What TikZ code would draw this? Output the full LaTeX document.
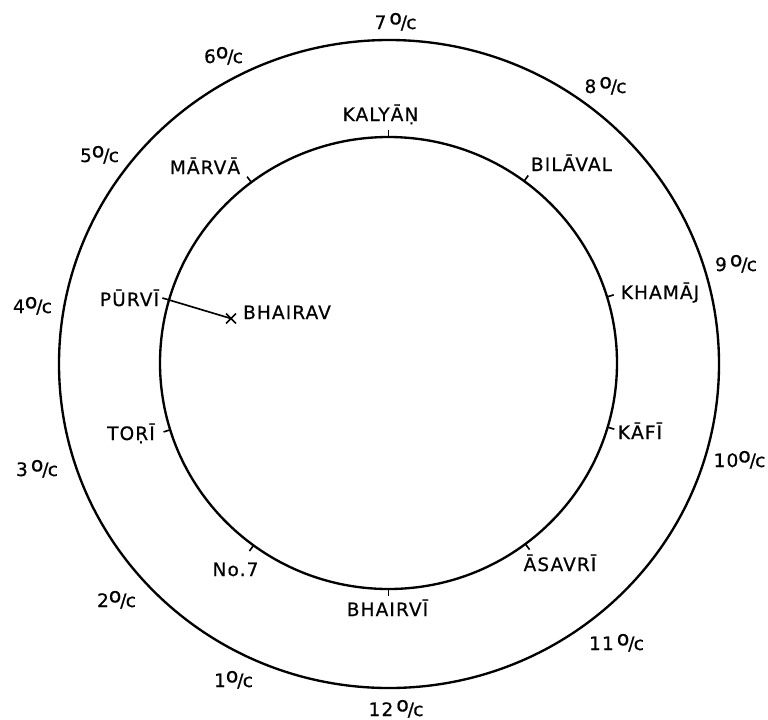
\documentclass[tikz,border=0pt]{standalone}
\usepackage{fontspec}
\setmainfont{DejaVu Sans}[LetterSpace=6, FakeBold=0.6]
\usetikzlibrary{shapes.misc}
\newcommand{\ocl}{\raisebox{0.25em}{\scalebox{1.1}{o}}\kern-0.06em/\kern-0.04em c}
\begin{document}
\begin{tikzpicture}[x=0.03cm,y=0.03cm,
  ring/.style={line width=2pt},
  tickline/.style={line width=1.4pt},
  lab/.style={font=\fontsize{15.8}{18}\selectfont, inner sep=0pt, anchor=base},
  xmark/.style={cross out, draw, line width=1.4pt, minimum size=7pt, inner sep=0pt}]
\useasboundingbox (0,0) rectangle (768,-719);
\coordinate (ci) at (388.5,-363);
\coordinate (co) at (389,-364);
\draw[ring] (co) ellipse [x radius=330, y radius=324];
\draw[ring] (ci) ellipse [x radius=228.5, y radius=226];
% ticks on the inner circle
\foreach \n/\a in {ka/90, bi/53.6, kh/17, kf/-16.5, as/-53.2, bv/-90, no/-126.2, to/197.2, pu/163.8, ma/126.9}{
  \path (ci) ++(\a:228.5 and 226) coordinate (\n) ++(\a:7) coordinate (\n-t);
  \draw[tickline] (\n) -- (\n-t);
}
% inner labels
\node[lab] (lka) at (380.5,-121) {KALYĀṆ};
\node[lab] (lbi) at (571.5,-171) {BILĀVAL};
\node[lab] (lma) at (205,-174) {MĀRVĀ};
\node[lab] (lkh) at (660,-299) {KHAMĀJ};
\node[lab] (lpu) at (129.5,-306) {PŪRVĪ};
\node[lab] (lbh) at (287,-319) {BHAIRAV};
\node[lab] (lto) at (131,-440) {TOṚĪ};
\node[lab] (lkf) at (640,-439) {KĀFĪ};
\node[lab] (las) at (560,-571) {ĀSAVRĪ};
\node[lab] (lno) at (235.5,-576) {No.7};
\node[lab] (lbv) at (387.5,-616) {BHAIRVĪ};
% Bhairav mark
\node[xmark] (bx) at (231,-318.5) {};
\draw[tickline] (pu) -- (bx.center);
% outer labels
\node[lab] (h7) at (395.5,-29) {7\,\ocl};
\node[lab] (h8) at (605.5,-93) {8\,\ocl};
\node[lab] (h9) at (736,-271) {9\,\ocl};
\node[lab] (h10) at (739.5,-467) {10\ocl};
\node[lab] (h11) at (616.5,-650) {11\,\ocl};
\node[lab] (h12) at (396,-716) {12\,\ocl};
\node[lab] (h1) at (233.5,-687) {1\ocl};
\node[lab] (h2) at (116.5,-607) {2\ocl};
\node[lab] (h3) at (37,-476) {3\,\ocl};
\node[lab] (h4) at (32.5,-313) {4\ocl};
\node[lab] (h5) at (99.5,-162) {5\ocl};
\node[lab] (h6) at (223.5,-63) {6\ocl};
\end{tikzpicture}
\end{document}
